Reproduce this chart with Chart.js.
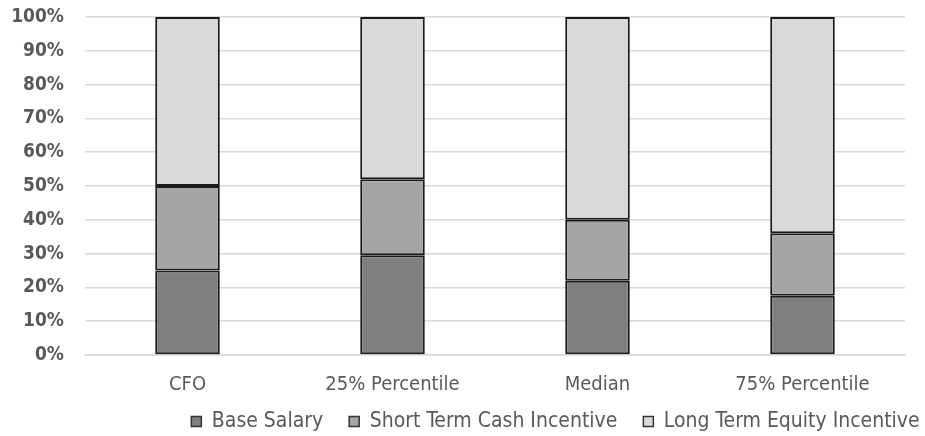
<!DOCTYPE html>
<html>
<head>
<meta charset="utf-8">
<script src="https://cdn.jsdelivr.net/npm/chart.js@4/dist/chart.umd.min.js"></script>
<style>
  html, body { margin: 0; padding: 0; background: #fff; }
  #wrap { width: 925px; height: 436px; }
</style>
</head>
<body>
<div id="wrap"><canvas id="myChart" width="925" height="436"></canvas></div>
<script>
// chart data
const categories = ['CFO', '25% Percentile', 'Median', '75% Percentile'];
const baseSalary = [25, 29.5, 22, 17.5];
const shortTermCash = [25, 22.5, 18, 18.5];
const longTermEquity = [50, 48, 60, 64];
const tickLabels = ['0%', '10%', '20%', '30%', '40%', '50%', '60%', '70%', '80%', '90%', '100%'];

const fontFamily = "'Liberation Sans Narrow', 'DejaVu Sans Condensed', 'Liberation Sans', sans-serif";

function makeSet(label, data, color) {
  return {
    label: label,
    data: data,
    backgroundColor: color,
    borderColor: '#1a1a1a',
    borderWidth: 2,
    borderSkipped: false,
    barPercentage: 0.63,
    categoryPercentage: 0.5
  };
}

// legend sits lower-right in the original, nudge it there
const shiftLegend = {
  id: 'shiftLegend',
  afterLayout: function(chart) {
    const lg = chart.legend;
    lg.left += 103;
    lg.right += 103;
    lg.top -= 22;
    lg.bottom = 436;
    lg.height = lg.bottom - lg.top;
  }
};

const ctx = document.getElementById('myChart').getContext('2d');
const myChart = new Chart(ctx, {
  type: 'bar',
  data: {
    labels: categories,
    datasets: [
      makeSet('Base Salary', baseSalary, '#7f7f7f'),
      makeSet('Short Term Cash Incentive', shortTermCash, '#a5a5a5'),
      makeSet('Long Term Equity Incentive', longTermEquity, '#d9d9d9')
    ]
  },
  plugins: [shiftLegend],
  options: {
    responsive: false,
    animation: false,
    layout: { padding: { left: 0, right: 20, top: 17, bottom: 0 } },
    plugins: {
      tooltip: { enabled: false },
      legend: {
        position: 'bottom',
        maxHeight: 29,
        labels: {
          color: '#595959',
          font: { family: fontFamily, size: 21, lineHeight: 1 },
          boxWidth: 10,
          boxHeight: 10,
          padding: 26,
          generateLabels: function(chart) {
            return chart.data.datasets.map(function(ds, i) {
              return {
                text: ds.label,
                fillStyle: ds.backgroundColor,
                strokeStyle: '#333',
                lineWidth: 1.5,
                datasetIndex: i,
                fontColor: '#595959'
              };
            });
          }
        }
      }
    },
    scales: {
      x: {
        stacked: true,
        grid: { display: false },
        border: { color: '#d9d9d9', width: 1.5 },
        ticks: {
          color: '#595959',
          font: { family: fontFamily, size: 20, lineHeight: 1 },
          padding: 12
        }
      },
      y: {
        stacked: true,
        min: 0,
        max: 100,
        afterFit: function(scale) {
          scale.width = 85;
          scale.paddingTop = 0;
          scale.paddingBottom = 0;
        },
        border: { display: false },
        grid: { color: '#d9d9d9', lineWidth: 1.5, drawTicks: false },
        ticks: {
          stepSize: 10,
          color: '#595959',
          padding: 21,
          font: { family: fontFamily, size: 19, weight: 'bold', lineHeight: 1 },
          callback: function(value) { return tickLabels[Math.round(value / 10)]; }
        }
      }
    }
  }
});
</script>
</body>
</html>
